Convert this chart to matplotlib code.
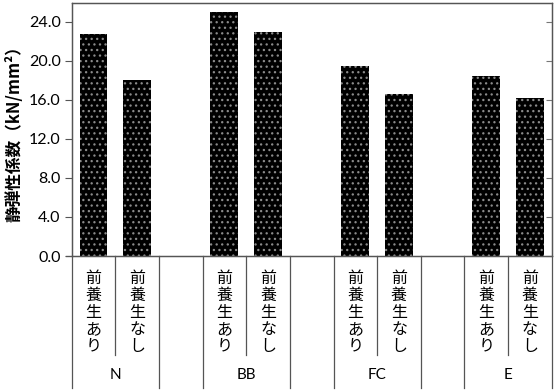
import matplotlib
matplotlib.use("Agg")
import matplotlib.pyplot as plt

plt.rcParams['font.family'] = ['Noto Sans CJK JP', 'DejaVu Sans']
plt.rcParams['hatch.linewidth'] = 0.9

groups = ["N", "BB", "FC", "E"]
conditions = ["前養生あり", "前養生なし"]
values = {
    "N": [22.8, 18.0],
    "BB": [25.0, 23.0],
    "FC": [19.5, 16.6],
    "E": [18.5, 16.2],
}
yticks = [0.0, 4.0, 8.0, 12.0, 16.0, 20.0, 24.0]
ylabel = "静弾性係数（kN/mm²）"

fig = plt.figure(figsize=(5.55, 3.9), dpi=100)
ax = fig.add_axes([71.7/555, 1-256/390, (551.7-71.7)/555, (256-3.3)/390])

# slot positions: 2 bars per group + blank slot between groups
xs, hs, labels, group_centers = [], [], [], []
pos = 0
for gi, g in enumerate(groups):
    for ci, c in enumerate(conditions):
        xs.append(pos + ci)
        hs.append(values[g][ci])
        labels.append(c)
    group_centers.append(pos + 0.5)
    pos += 3

ax.bar(xs, hs, width=0.64, color="black", edgecolor="#8a8a8a",
       linewidth=0, hatch="...")
ax.set_xlim(-0.5, xs[-1] + 0.5)
ax.set_ylim(0, 25.9)
ax.set_yticks(yticks)
ax.set_yticklabels([f"{v:.1f}" for v in yticks], fontsize=11.5,
                   fontfamily=['Lato', 'DejaVu Sans'])
ax.tick_params(axis='y', direction='out', length=5, width=0.8, color='#555555', pad=3)
ax.set_xticks([])

# secondary inward ticks on right spine
ax2 = ax.twinx()
ax2.set_ylim(ax.get_ylim())
ax2.set_yticks(yticks)
ax2.set_yticklabels([])
ax2.tick_params(axis='y', direction='in', length=4, width=0.8, color='#777777')

for a in (ax, ax2):
    for s in a.spines.values():
        s.set_color('#555555')
        s.set_linewidth(0.9)

ax.set_ylabel(ylabel, fontsize=12, fontweight='bold', labelpad=4)

# category table below the axis
tr = ax.get_xaxis_transform()
full_bottom = -0.522
short_bottom = -0.392
full_lines = [-0.5]
short_lines = []
for gi in range(len(groups)):
    base = gi * 3
    short_lines.append(base + 0.5)
    full_lines.append(base + 1.5)
    if gi < len(groups) - 1:
        full_lines.append(base + 2.5)
for x in full_lines:
    ax.plot([x, x], [0, full_bottom], transform=tr, color='#555555',
            lw=0.9, clip_on=False)
for x in short_lines:
    ax.plot([x, x], [0, short_bottom], transform=tr, color='#555555',
            lw=0.9, clip_on=False)
# small extension of baseline to the left
ax.plot([-0.64, -0.5], [0, 0], transform=tr, color='#555555', lw=0.9, clip_on=False)

for x, lab in zip(xs, labels):
    ax.text(x, -0.055, "\n".join(lab), transform=tr, ha='center', va='top',
            fontsize=11.5, linespacing=1.0, color='black')
for x, g in zip(group_centers, groups):
    ax.text(x, -0.47, g, transform=tr, ha='center', va='center',
            fontsize=11, fontfamily=['Lato', 'DejaVu Sans'])

fig.savefig("out.png", dpi=100)
